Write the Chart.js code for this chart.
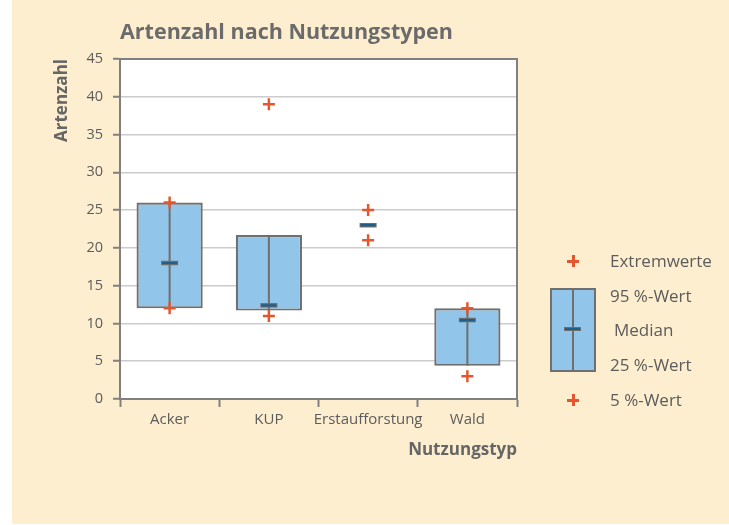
<!DOCTYPE html>
<html>
<head>
<meta charset="utf-8">
<script src="https://cdn.jsdelivr.net/npm/chart.js@4/dist/chart.umd.min.js"></script>
<style>
  html, body { margin: 0; padding: 0; background: #ffffff; }
  #wrap { position: relative; width: 729px; height: 525px; overflow: hidden; }
  #cream { position: absolute; left: 12px; top: 0; width: 717px; height: 524px; background: #fdeecf; }
  #c { position: absolute; left: 0; top: 0; }
  .lg { position: absolute; font-family: 'Open Sans', sans-serif; font-size: 17px; color: #5c5c5c; line-height: 20px; white-space: nowrap; }
  .cross { position: absolute; width: 12px; height: 12px; }
  .cross::before, .cross::after { content: ''; position: absolute; background: #e4572e; }
  .cross::before { left: 0; top: 5px; width: 12px; height: 2.5px; }
  .cross::after { left: 5px; top: 0; width: 2.5px; height: 12px; }
  #lbox { position: absolute; left: 550px; top: 288px; width: 46px; height: 84px; box-sizing: border-box; background: #92c5ea; border: 2px solid #6f6f6f; }
  #lbox::after { content: ''; position: absolute; left: 20px; top: 0; width: 2px; height: 100%; background: #6f6f6f; }
  #lmed { position: absolute; left: 564px; top: 327px; width: 17px; height: 4px; box-sizing: border-box; background: #1f5f8b; border: 1px solid #6d6d6d; }
</style>
</head>
<body>
<div id="wrap">
  <div id="cream"></div>
  <canvas id="c" width="729" height="525"></canvas>
  <div class="cross" style="left:567px; top:255px;"></div>
  <div class="lg" style="left:610px; top:251px;">Extremwerte</div>
  <div id="lbox"></div>
  <div id="lmed"></div>
  <div class="lg" style="left:610px; top:286px;">95 %-Wert</div>
  <div class="lg" style="left:614px; top:320px;">Median</div>
  <div class="lg" style="left:610px; top:355px;">25 %-Wert</div>
  <div class="cross" style="left:567px; top:394px;"></div>
  <div class="lg" style="left:610px; top:390px;">5 %-Wert</div>
</div>
<script>
// ---- data ----
const categories = ['Acker', 'KUP', 'Erstaufforstung', 'Wald'];
const p25 = [12, 11.7, null, 4.4];        // box bottom (25 %-Wert)
const p95 = [26, 21.7, null, 12];         // box top (95 %-Wert)
const medians = [18, 12.4, 23, 10.45];    // Median
const extremes = [26, 39, 25, 12];        // Extremwerte (upper +)
const p5 = [12, 11, 21, 3];               // 5 %-Wert (lower +)
const yTicks = [0, 5, 10, 15, 20, 25, 30, 35, 40, 45];

const boxes = categories.map((c, i) => (p25[i] === null ? null : [p25[i], p95[i]]));

const GREY = '#6f6f6f';
const TXT = '#5c5c5c';

const framePlugin = {
  id: 'frame',
  beforeDraw(chart) {
    const { ctx, chartArea: a } = chart;
    ctx.save();
    ctx.fillStyle = '#ffffff';
    ctx.fillRect(a.left, a.top, a.right - a.left, a.bottom - a.top);
    ctx.restore();
  },
  beforeDatasetsDraw(chart) {
    const { ctx, chartArea: a } = chart;
    ctx.save();
    ctx.strokeStyle = '#808080';
    ctx.lineWidth = 2;
    ctx.beginPath();
    ctx.moveTo(a.left, a.top);
    ctx.lineTo(a.right, a.top);
    ctx.lineTo(a.right, a.bottom);
    ctx.stroke();
    ctx.restore();
  },
  afterDatasetDraw(chart, args) {
    if (args.index !== 0) return;
    const { ctx } = chart;
    ctx.save();
    ctx.strokeStyle = GREY;
    ctx.lineWidth = 2;
    args.meta.data.forEach((el, i) => {
      if (boxes[i] === null) return;
      ctx.beginPath();
      ctx.moveTo(el.x, el.y);
      ctx.lineTo(el.x, el.base);
      ctx.stroke();
    });
    ctx.restore();
  }
};

new Chart(document.getElementById('c'), {
  type: 'bar',
  data: {
    labels: categories,
    datasets: [
      {
        label: 'Box',
        data: boxes,
        backgroundColor: '#92c5ea',
        borderColor: GREY,
        borderWidth: 2.2,
        borderSkipped: false,
        barPercentage: 0.667,
        categoryPercentage: 1,
        order: 3
      },
      {
        type: 'line',
        label: 'Median outline',
        data: medians,
        showLine: false,
        pointStyle: 'line',
        pointRadius: 8.5,
        pointBorderWidth: 4.5,
        borderColor: '#6d6d6d',
        pointBorderColor: '#6d6d6d',
        order: 2
      },
      {
        type: 'line',
        label: 'Median',
        data: medians,
        showLine: false,
        pointStyle: 'line',
        pointRadius: 7.5,
        pointBorderWidth: 2.2,
        borderColor: '#1f5f8b',
        pointBorderColor: '#1f5f8b',
        order: 1
      },
      {
        type: 'line',
        label: 'Extremwerte',
        data: extremes,
        showLine: false,
        pointStyle: 'cross',
        pointRadius: 6,
        pointBorderWidth: 2.5,
        borderColor: '#e4572e',
        pointBorderColor: '#e4572e',
        order: 0
      },
      {
        type: 'line',
        label: '5 %-Wert',
        data: p5,
        showLine: false,
        pointStyle: 'cross',
        pointRadius: 6,
        pointBorderWidth: 2.5,
        borderColor: '#e4572e',
        pointBorderColor: '#e4572e',
        order: 0
      }
    ]
  },
  options: {
    responsive: false,
    animation: false,
    events: [],
    layout: { padding: { left: 12, right: 212, top: 0, bottom: 65 } },
    plugins: {
      legend: { display: false },
      tooltip: { enabled: false },
      title: {
        display: true,
        text: 'Artenzahl nach Nutzungstypen',
        align: 'start',
        fullSize: false,
        color: '#6b6b6b',
        font: { family: "'Open Sans', sans-serif", size: 21.5, weight: 'bold' },
        padding: { top: 20, bottom: 13.2 }
      }
    },
    scales: {
      x: {
        type: 'category',
        offset: true,
        grid: { offset: true, drawOnChartArea: false, drawTicks: true, tickLength: 8, tickColor: '#808080', tickWidth: 2 },
        border: { color: '#808080', width: 2 },
        ticks: {
          color: TXT,
          font: { family: "'Open Sans', sans-serif", size: 15 },
          padding: 4,
          maxRotation: 0,
          minRotation: 0,
          autoSkip: false
        },
        title: {
          display: true,
          text: 'Nutzungstyp',
          align: 'end',
          color: '#666666',
          font: { family: "'Open Sans', sans-serif", size: 17, weight: 'bold' },
          padding: { top: 0, bottom: 0 }
        },
        afterFit(scale) { scale.height = 61; }
      },
      y: {
        min: 0,
        max: 45,
        afterBuildTicks(scale) { scale.ticks = yTicks.map(v => ({ value: v })); },
        grid: { color: '#cccccc', lineWidth: 1.5, drawTicks: true, tickLength: 7, tickColor: '#808080', tickWidth: 2 },
        border: { color: '#808080', width: 2 },
        ticks: {
          color: TXT,
          font: { family: "'Open Sans', sans-serif", size: 14.5 },
          padding: 10
        },
        title: {
          display: true,
          text: 'Artenzahl',
          align: 'end',
          color: '#666666',
          font: { family: "'Open Sans', sans-serif", size: 17, weight: 'bold' },
          padding: { top: 40, bottom: 0 }
        },
        afterFit(scale) { scale.width = 108; }
      }
    }
  },
  plugins: [framePlugin]
});
</script>
</body>
</html>
